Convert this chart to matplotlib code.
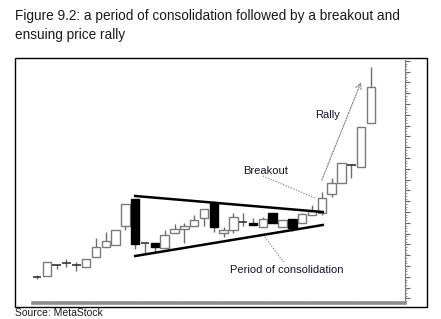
import matplotlib
matplotlib.use("Agg")
import matplotlib.pyplot as plt
from matplotlib.patches import Rectangle
from matplotlib.ticker import MultipleLocator

# daily candles (open, high, low, close), price units
opens = [43, 44, 55, 57, 55, 53, 63, 73, 75, 94, 121, 77, 77, 72, 87, 91, 94,
         102, 117, 87, 90, 98, 97, 93, 107, 93, 101, 97, 105, 107, 126, 137,
         155, 153, 197]
highs = [45, 58, 56, 61, 58, 61, 82, 88, 90, 116, 121, 77, 77, 90, 96, 97, 105,
         111, 119, 93, 107, 107, 102, 103, 107, 100, 101, 107, 115, 128, 142,
         157, 156, 193, 253]
lows = [41, 44, 51, 53, 49, 53, 63, 73, 75, 90, 71, 66, 68, 72, 87, 77, 94,
        94, 88, 83, 87, 94, 95, 93, 97, 93, 89, 97, 105, 105, 123, 137,
        142, 153, 197]
closes = [43, 58, 56, 57, 56, 61, 73, 79, 90, 116, 76, 77, 73, 85, 91, 94, 100,
          111, 93, 90, 103, 98, 95, 101, 97, 100, 92, 106, 109, 122, 137, 157,
          155, 193, 233]

# trendlines of the consolidation (index, price)
upper_x = [10.0, 29.1]
upper_y = [124, 108]
lower_x = [10.0, 29.1]
lower_y = [64, 95]

plt.rcParams["font.family"] = ["Liberation Sans", "DejaVu Sans"]

fig = plt.figure(figsize=(4.41, 3.19), dpi=100)
ax = fig.add_axes([33 / 441, 16 / 319, 372 / 441, 243 / 319])

body_w = 0.86
for i, (o, h, l, c) in enumerate(zip(opens, highs, lows, closes)):
    top, bot = max(o, c), min(o, c)
    ax.vlines(i, l, h, color="#6e6e6e", lw=1.0, zorder=2)
    if top - bot < 1.5:
        ax.hlines((o + c) / 2, i - body_w / 2, i + body_w / 2, color="#333333", lw=1.2, zorder=3)
        continue
    if c >= o:
        face, edge = "white", "#7a7a7a"
    else:
        face, edge = "black", "black"
    ax.add_patch(Rectangle((i - body_w / 2, bot), body_w, top - bot,
                           facecolor=face, edgecolor=edge, lw=1.0, zorder=3))

ax.plot(upper_x, upper_y, color="black", lw=1.8, zorder=4)
ax.plot(lower_x, lower_y, color="black", lw=1.8, zorder=4)

txt = "#14142a"
dot = dict(color="#8a8a8a", lw=0.9, linestyle=(0, (1, 1.2)))
ax.text(23.3, 149, "Breakout", fontsize=8, color=txt, ha="center", va="center")
ax.plot([23.0, 28.3], [144, 122], **dot)
ax.text(29.6, 205, "Rally", fontsize=8, color=txt, ha="center", va="center")
ax.annotate("", xy=(33.0, 238), xytext=(29.0, 140),
            arrowprops=dict(arrowstyle="->", color="#8a8a8a", lw=0.9,
                            linestyle=(0, (1, 1.2)), shrinkA=0, shrinkB=0))
ax.text(25.4, 50, "Period of consolidation", fontsize=8, color=txt, ha="center", va="center")
ax.plot([23.2, 25.1], [83, 58], **dot)

ax.set_xlim(-0.41, 37.47)
ax.set_ylim(17, 260)

for s in ["left", "top"]:
    ax.spines[s].set_visible(False)
ax.spines["right"].set_color("#777777")
ax.spines["right"].set_linewidth(0.8)
ax.spines["bottom"].set_color("#8c8c8c")
ax.spines["bottom"].set_linewidth(2.6)

ax.yaxis.tick_right()
ax.yaxis.set_major_locator(MultipleLocator(10.8))
ax.yaxis.set_minor_locator(MultipleLocator(2.7))
ax.tick_params(axis="y", which="major", length=3.5, width=0.8, colors="#666666", labelright=False)
ax.tick_params(axis="y", which="minor", length=1.5, width=0.6, colors="#888888")
ax.xaxis.set_major_locator(MultipleLocator(1))
ax.tick_params(axis="x", which="major", direction="in", length=1.5, width=0.8,
               colors="#555555", labelbottom=False)

fig.add_artist(Rectangle((15 / 441, 12 / 319), 412 / 441, 249 / 319, transform=fig.transFigure,
                         fill=False, edgecolor="black", lw=1.0))

fig.text(15 / 441, 1 - 20 / 319, "Figure 9.2: a period of consolidation followed by a breakout and",
         fontsize=9.8, color="#1a1a1a", ha="left", va="baseline")
fig.text(15 / 441, 1 - 39 / 319, "ensuing price rally",
         fontsize=9.8, color="#1a1a1a", ha="left", va="baseline")
fig.text(15 / 441, 0.5 / 319, "Source: MetaStock", fontsize=7.5, color="#1a1a1a",
         ha="left", va="bottom")

fig.savefig("out.png", dpi=100)
